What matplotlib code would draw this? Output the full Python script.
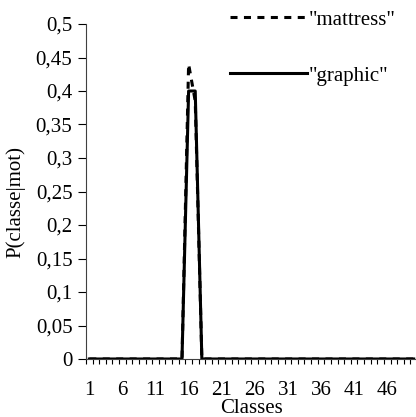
import matplotlib
matplotlib.use("Agg")
import matplotlib.pyplot as plt
import numpy as np

# 50 word classes, P(classe|mot) for two words
classes = np.arange(1, 51)
mattress = np.zeros(50)
graphic = np.zeros(50)
mattress[15] = 0.44   # class 16
mattress[16] = 0.385  # class 17
graphic[15] = 0.40
graphic[16] = 0.40

xtick_pos = np.arange(1, 50, 5)
xtick_labels = [str(v) for v in xtick_pos]
yticks = np.arange(0, 0.501, 0.05)
ytick_labels = ["0" if v == 0 else f"{v:.2f}".rstrip("0").replace(".", ",") for v in yticks]

plt.rcParams["font.family"] = ["Liberation Serif", "DejaVu Serif"]
FS = 15

fig = plt.figure(figsize=(4.16, 4.17), dpi=100)
ax = fig.add_axes([86 / 416, 58 / 417, 331 / 416, 335 / 417])

ax.plot(classes, mattress, color="black", lw=2.2, ls=(0, (2.3, 2.1)), label='"mattress"')
ax.plot(classes, graphic, color="black", lw=2.2, label='"graphic"')

ax.set_xlim(0.5, 50.5)
ax.set_ylim(0, 0.5)
ax.set_yticks(yticks)
ax.set_yticklabels(ytick_labels, fontsize=FS)
ax.set_xticks(xtick_pos)
ax.set_xticklabels(xtick_labels, fontsize=FS)
ax.set_xticks(np.arange(0.5, 51, 1), minor=True)
ax.tick_params(axis="x", which="major", length=0, pad=16)
ax.tick_params(axis="x", which="minor", length=3.6, width=0.8, direction="out")
ax.tick_params(axis="y", length=5.8, width=0.8, pad=4)

for s in ("top", "right"):
    ax.spines[s].set_visible(False)
for s in ("left", "bottom"):
    ax.spines[s].set_linewidth(0.8)
    ax.spines[s].set_color("#404040")

ax.set_xlabel("Classes", fontsize=FS, labelpad=-1)
ax.set_ylabel("P(classe|mot)", fontsize=FS)
ax.yaxis.set_label_coords(-0.183, 0.47)

ax.legend(loc="upper left", bbox_to_anchor=(230 / 416, 1 - 10 / 417),
          bbox_transform=fig.transFigure, frameon=False, fontsize=FS,
          handlelength=3.7, handletextpad=0.1, labelspacing=1.75,
          borderaxespad=0, borderpad=0)

fig.savefig("out.png", dpi=100)
